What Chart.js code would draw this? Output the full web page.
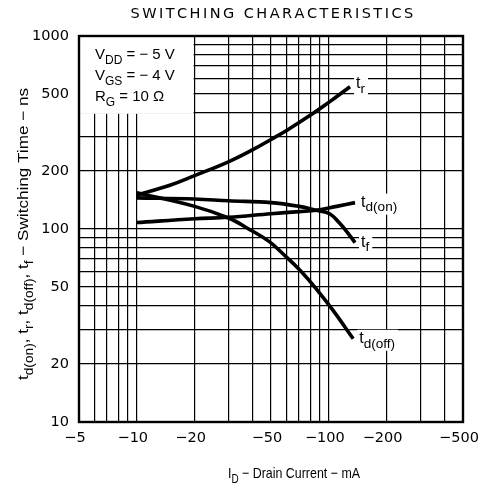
<!DOCTYPE html>
<html lang="en">
<head>
  <meta charset="UTF-8" />
  <title>Switching Characteristics</title>
  <script src="https://cdn.jsdelivr.net/npm/chart.js"></script>
  <style>
    html, body { margin: 0; padding: 0; background: #fff; }
    canvas { display: block; }
  </style>
</head>
<body>
  <canvas id="swChart" width="479" height="485"></canvas>

  <script>
    // drain current magnitudes (mA, axis shows them as negative) and switching times (ns)
    const trCurrent    = [10, 15, 20, 30, 40, 50, 60, 80, 100, 129];
    const trTime       = [150, 169, 189, 223, 257, 291, 323, 388, 453, 546];

    const tdonCurrent  = [10, 20, 30, 50, 70, 86, 110, 137];
    const tdonTime     = [108, 113, 115, 120, 123, 125, 131, 137];

    const tfCurrent    = [10, 20, 30, 50, 70, 86, 101, 114, 126, 137];
    const tfTime       = [145, 143, 140, 137, 131, 125, 120, 107, 95, 85];

    const tdoffCurrent = [10, 20, 30, 39, 49, 58, 71, 86, 105, 134];
    const tdoffTime    = [154, 131, 114, 99, 86, 74, 61, 49, 38, 27];

    const xGrid   = [5, 6, 7, 8, 9, 10, 20, 30, 40, 50, 60, 70, 80, 90, 100, 200, 300, 400, 500];
    const xLabels = [5, 10, 20, 50, 100, 200, 500];
    const yGrid   = [10, 20, 30, 40, 50, 60, 70, 80, 90, 100, 200, 300, 400, 500, 600, 700, 800, 900, 1000];
    const yLabels = [10, 20, 50, 100, 200, 500, 1000];

    const curveNames = [
      [{ t: 't' }, { t: 'r', sub: true }],
      [{ t: 't' }, { t: 'd(on)', sub: true }],
      [{ t: 't' }, { t: 'f', sub: true }],
      [{ t: 't' }, { t: 'd(off)', sub: true }]
    ];

    const FONT = "'Liberation Sans', Arial, sans-serif";
    const TICK_FONT = "'DejaVu Sans', sans-serif";

    function pts(xs, ys) {
      return xs.map((x, i) => ({ x: x, y: ys[i] }));
    }

    function richWidth(ctx, parts, size, subRatio) {
      let w = 0;
      parts.forEach(p => {
        ctx.font = (p.sub ? size * subRatio : size) + 'px ' + FONT;
        w += ctx.measureText(p.t).width;
      });
      return w;
    }

    function drawRich(ctx, parts, x, y, size, subRatio) {
      subRatio = subRatio || 0.8;
      let cx = x;
      ctx.textBaseline = 'alphabetic';
      ctx.textAlign = 'left';
      parts.forEach(p => {
        const s = p.sub ? size * subRatio : size;
        ctx.font = s + 'px ' + FONT;
        ctx.fillText(p.t, cx, p.sub ? y + size * 0.3 : y);
        cx += ctx.measureText(p.t).width;
      });
      return cx - x;
    }

    // draws rich text squeezed horizontally to a given width
    function drawFitted(ctx, parts, x, y, size, width) {
      const w = richWidth(ctx, parts, size, 0.8);
      ctx.save();
      ctx.translate(x, y);
      ctx.scale(width / w, 1);
      drawRich(ctx, parts, 0, 0, size, 0.8);
      ctx.restore();
    }

    const overlay = {
      id: 'overlay',
      beforeDraw(chart) {
        const ctx = chart.ctx;
        ctx.save();
        ctx.fillStyle = '#fff';
        ctx.fillRect(0, 0, chart.width, chart.height);
        ctx.restore();
      },
      afterDatasetsDraw(chart) {
        const ctx = chart.ctx;
        const a = chart.chartArea;
        const xs = chart.scales.x, ys = chart.scales.y;
        ctx.save();

        // condition box in the top-left corner
        const bx1 = xs.getPixelForValue(20) - 1;
        const by1 = ys.getPixelForValue(400) + 1;
        ctx.fillStyle = '#fff';
        ctx.fillRect(a.left, a.top, bx1 - a.left, by1 - a.top);
        ctx.fillStyle = '#000';
        drawRich(ctx, [{ t: 'V' }, { t: 'DD', sub: true }, { t: ' = \u2212 5 V' }], a.left + 16, a.top + 23, 15);
        drawRich(ctx, [{ t: 'V' }, { t: 'GS', sub: true }, { t: ' = \u2212 4 V' }], a.left + 16, a.top + 44, 15);
        drawRich(ctx, [{ t: 'R' }, { t: 'G', sub: true }, { t: ' = 10 \u03A9' }], a.left + 16, a.top + 65, 15);

        // curve labels next to the last point of each curve
        chart.data.datasets.forEach((ds, i) => {
          const last = ds.data[ds.data.length - 1];
          const px = xs.getPixelForValue(last.x);
          const py = ys.getPixelForValue(last.y);
          const lx = px + 6;
          const ly = py + (i === 0 ? 1 : 4);
          const w = richWidth(ctx, curveNames[i], 16, 0.85);
          ctx.fillStyle = '#fff';
          ctx.fillRect(lx - 2, ly - 13, w + 5, 21);
          ctx.fillStyle = '#000';
          drawRich(ctx, curveNames[i], lx, ly, 16, 0.85);
        });

        // heavy frame
        ctx.strokeStyle = '#000';
        ctx.lineWidth = 2.4;
        ctx.strokeRect(a.left, a.top, a.right - a.left, a.bottom - a.top);
        ctx.restore();
      },
      afterDraw(chart) {
        const ctx = chart.ctx;
        const a = chart.chartArea;
        ctx.save();
        ctx.fillStyle = '#000';

        // title, letter spaced
        const title = 'SWITCHING CHARACTERISTICS';
        ctx.font = "14.5px 'DejaVu Sans', sans-serif";
        const raw = ctx.measureText(title).width;
        const target = 281;
        const gap = (target - raw) / (title.length - 1);
        let tx = (a.left + a.right) / 2 - target / 2;
        ctx.textAlign = 'left';
        ctx.textBaseline = 'alphabetic';
        for (const ch of title) {
          ctx.fillText(ch, tx, 18);
          tx += ctx.measureText(ch).width + gap;
        }

        // x axis title
        const xParts = [{ t: 'I' }, { t: 'D', sub: true }, { t: ' \u2212 Drain Current \u2212 mA' }];
        drawFitted(ctx, xParts, 228, 478, 15, 132);

        // y axis title, rotated
        const yParts = [
          { t: 't' }, { t: 'd(on)', sub: true }, { t: ', t' }, { t: 'r', sub: true },
          { t: ', t' }, { t: 'd(off)', sub: true }, { t: ', t' }, { t: 'f', sub: true },
          { t: ' \u2212 Switching Time \u2212 ns' }
        ];
        ctx.translate(28, 380);
        ctx.rotate(-Math.PI / 2);
        drawFitted(ctx, yParts, 0, 0, 15, 292);
        ctx.restore();
      }
    };

    const lineStyle = {
      borderColor: '#000',
      borderWidth: 3.6,
      pointRadius: 0,
      fill: false,
      tension: 0.4
    };

    new Chart(document.getElementById('swChart').getContext('2d'), {
      type: 'line',
      data: {
        datasets: [
          { label: 'tr', data: pts(trCurrent, trTime), ...lineStyle },
          { label: 'td(on)', data: pts(tdonCurrent, tdonTime), ...lineStyle },
          { label: 'tf', data: pts(tfCurrent, tfTime), ...lineStyle },
          { label: 'td(off)', data: pts(tdoffCurrent, tdoffTime), ...lineStyle }
        ]
      },
      options: {
        responsive: false,
        animation: false,
        devicePixelRatio: 1,
        layout: { padding: { left: 0, top: 36, right: 16, bottom: 0 }, autoPadding: false },
        plugins: { legend: { display: false }, tooltip: { enabled: false } },
        scales: {
          x: {
            type: 'logarithmic',
            min: 5,
            max: 500,
            afterBuildTicks: s => { s.ticks = xGrid.map(v => ({ value: v })); },
            afterFit: s => { s.height = 63; s.paddingLeft = 0; s.paddingRight = 0; },
            border: { display: false },
            grid: { color: '#000', lineWidth: 1.2, drawTicks: false },
            ticks: {
              autoSkip: false,
              maxRotation: 0,
              padding: 8,
              labelOffset: -4,
              color: '#000',
              font: { family: TICK_FONT, size: 14.5 },
              callback: v => xLabels.includes(v) ? '\u2212' + v : ''
            }
          },
          y: {
            type: 'logarithmic',
            min: 10,
            max: 1000,
            afterBuildTicks: s => { s.ticks = yGrid.map(v => ({ value: v })); },
            afterFit: s => { s.width = 79; s.paddingTop = 0; s.paddingBottom = 0; },
            border: { display: false },
            grid: { color: '#000', lineWidth: 1.2, drawTicks: false },
            ticks: {
              autoSkip: false,
              padding: 10,
              color: '#000',
              font: { family: TICK_FONT, size: 14.5 },
              callback: v => yLabels.includes(v) ? String(v) : ''
            }
          }
        }
      },
      plugins: [overlay]
    });
  </script>
</body>
</html>
